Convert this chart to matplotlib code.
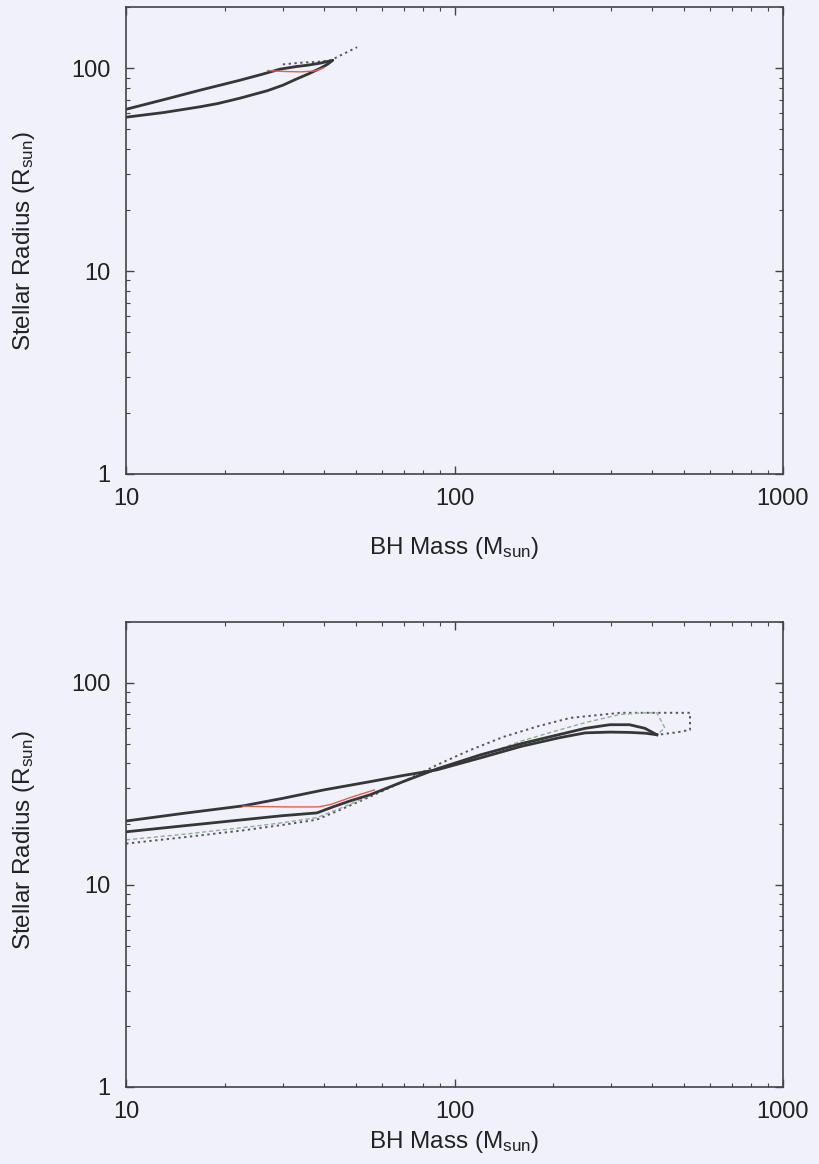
import numpy as np
import matplotlib
matplotlib.use('Agg')
import matplotlib.pyplot as plt
from matplotlib.ticker import LogLocator, NullFormatter, FixedLocator, FixedFormatter

plt.rcParams['font.family'] = ['Liberation Sans', 'DejaVu Sans']
plt.rcParams['mathtext.fontset'] = 'custom'
plt.rcParams['mathtext.rm'] = 'Liberation Sans'
plt.rcParams['mathtext.it'] = 'Liberation Sans:italic'

# ---- top panel data (BH mass in Msun, radius in Rsun) ----
top_solid_m = [10, 13, 16.8, 22.2, 26, 29.4, 33, 35.6, 39, 42.6,
               41, 39, 36, 33, 30, 26.9, 22.2, 19, 16.8, 13, 10]
top_solid_r = [62.8, 70, 78, 87.3, 93.5, 99, 102, 103.5, 106, 109.5,
               104.5, 100, 94, 88.5, 82.5, 77.5, 71.2, 67, 64.6, 60.5, 57.4]
top_red_m = [27, 30, 34, 37.5, 40]
top_red_r = [97.5, 96.5, 96, 97, 100.5]
top_dot_m = [30, 34, 38, 42, 46, 50.5]
top_dot_r = [104.5, 106.5, 107.5, 109.5, 118, 127]

# ---- bottom panel data ----
bot_a_m = [10, 15, 22.7, 30, 40, 55.3, 70, 88.5, 120, 160, 209, 250, 297, 341, 380, 413]
bot_a_r = [20.7, 22.6, 24.6, 26.8, 29.5, 32.4, 34.8, 37.1, 42.5, 48.5, 53.5, 56.5, 57, 56.8, 56.3, 55.3]
bot_b_m = [10, 15, 22.7, 30, 38.1, 42.6, 48, 55.3, 70, 88.5, 120, 160, 209, 250, 297, 341, 380, 413]
bot_b_r = [18.3, 19.6, 21.0, 22.0, 22.7, 24.3, 26, 27.9, 32.5, 37.5, 44, 50, 55.5, 59.5, 62, 62, 59.5, 55.3]
bot_red_m = [22.7, 30, 38.5, 42, 48, 57]
bot_red_r = [24.5, 24.3, 24.3, 25, 27, 29.5]
bot_green_m = [10, 15, 22.7, 30, 38, 44, 55, 70, 88, 120, 160, 199, 250, 319, 380, 413, 437, 413]
bot_green_r = [16.7, 17.8, 19.2, 20.3, 21.5, 23.6, 27.5, 32.6, 37.5, 43.5, 51.5, 57.2, 63.5, 69.7, 71, 71, 59.8, 55.3]
bot_dot_m = [10, 15, 22.7, 30, 38, 44, 55, 70, 89, 110, 141, 180, 225, 319, 420, 521, 521, 480, 417]
bot_dot_r = [16.0, 17.2, 18.6, 19.8, 21.0, 23.2, 27.2, 32.5, 39.4, 46, 54, 61, 67, 71, 71, 71, 58.5, 57, 55.3]

bg = '#f0f1fa'
solid_c = '#363636'
red_c = '#e0604c'
dot_c = '#555566'
green_c = '#90b090'

fig = plt.figure(figsize=(8.19, 11.64), dpi=100, facecolor=bg)
ax1 = fig.add_axes([0.154, 0.5928, 0.802, 0.401])
ax2 = fig.add_axes([0.154, 0.0662, 0.802, 0.3995])

# top panel
ax1.plot(top_dot_m, top_dot_r, color=dot_c, lw=1.4, ls=(0, (1.2, 1.8)))
ax1.plot(top_solid_m, top_solid_r, color=solid_c, lw=2.0)
ax1.plot(top_red_m, top_red_r, color=red_c, lw=1.0)

# bottom panel
ax2.plot(bot_dot_m, bot_dot_r, color=dot_c, lw=1.4, ls=(0, (1.2, 1.8)))
ax2.plot(bot_green_m, bot_green_r, color=green_c, lw=1.0, ls=(0, (3, 2)))
ax2.plot(bot_a_m, bot_a_r, color=solid_c, lw=2.0)
ax2.plot(bot_b_m, bot_b_r, color=solid_c, lw=2.0)
ax2.plot(bot_red_m, bot_red_r, color=red_c, lw=1.0)

ylabel_y = {ax1: 0.5, ax2: 0.53}
xlabel_y = {ax1: -0.158, ax2: -0.118}
for ax in (ax1, ax2):
    ax.set_facecolor(bg)
    ax.set_xscale('log')
    ax.set_yscale('log')
    ax.set_xlim(10, 1000)
    ax.set_ylim(1, 200)
    ax.xaxis.set_major_locator(FixedLocator([10, 100, 1000]))
    ax.xaxis.set_major_formatter(FixedFormatter(['10', '100', '1000']))
    ax.yaxis.set_major_locator(FixedLocator([1, 10, 100]))
    ax.yaxis.set_major_formatter(FixedFormatter(['1', '10', '100']))
    ax.xaxis.set_minor_locator(LogLocator(base=10, subs=np.arange(2, 10)))
    ax.yaxis.set_minor_locator(LogLocator(base=10, subs=np.arange(2, 10)))
    ax.xaxis.set_minor_formatter(NullFormatter())
    ax.yaxis.set_minor_formatter(NullFormatter())
    ax.tick_params(which='both', direction='in', top=True, right=True,
                   color='#444444', labelsize=17, labelcolor='#222222')
    ax.tick_params(which='major', length=6, width=1.0)
    ax.tick_params(which='minor', length=3, width=0.8)
    ax.tick_params(axis='x', pad=10)
    ax.tick_params(axis='y', pad=11)
    for s in ax.spines.values():
        s.set_color('#444444')
        s.set_linewidth(1.2)
    ax.set_xlabel(r'BH Mass (M$_{\rm sun}$)', fontsize=17.5, color='#222222')
    ax.set_ylabel(r'Stellar Radius (R$_{\rm sun}$)', fontsize=17.5, color='#222222')
    ax.xaxis.set_label_coords(0.5, xlabel_y[ax])
    ax.xaxis.label.set_va('center')
    ax.yaxis.set_label_coords(-0.155, ylabel_y[ax])
    ax.yaxis.label.set_va('center')

fig.savefig('out.png', dpi=100, facecolor=bg)
